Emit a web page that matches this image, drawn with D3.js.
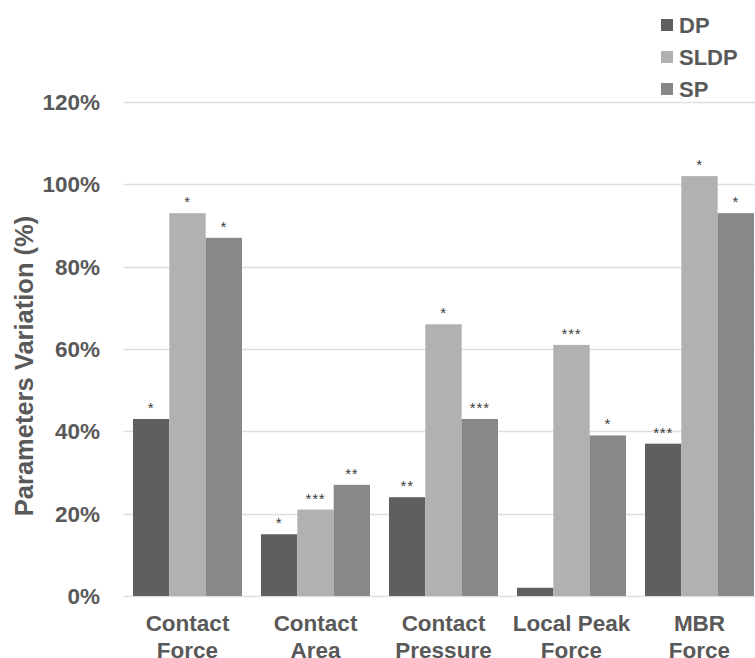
<!DOCTYPE html>
<html>
<head>
<meta charset="utf-8">
<script src="https://cdn.jsdelivr.net/npm/d3@7"></script>
<style>
  html, body { margin: 0; padding: 0; background: #fff; overflow: hidden; }
  svg { display: block; font-family: "Liberation Sans", Arial, sans-serif; }
</style>
</head>
<body>
<svg id="chart" width="755" height="658"></svg>
<script>
// ---- data ----
const categories = [["Contact", "Force"], ["Contact", "Area"], ["Contact", "Pressure"], ["Local Peak", "Force"], ["MBR", "Force"]];
const seriesNames = ["DP", "SLDP", "SP"];
const dpValues   = [0.43, 0.15, 0.24, 0.02, 0.37];
const sldpValues = [0.93, 0.21, 0.66, 0.61, 1.02];
const spValues   = [0.87, 0.27, 0.43, 0.39, 0.93];
const dpStars   = ["*", "*", "**", "", "***"];
const sldpStars = ["*", "***", "*", "***", "*"];
const spStars   = ["*", "**", "***", "*", "*"];
const yTicks = [0, 0.2, 0.4, 0.6, 0.8, 1.0, 1.2];
const yTitle = "Parameters Variation (%)";

// ---- styles ----
const colors = ["#5f5f5f", "#b1b1b1", "#888888"];
const textColor = "#595959";
const gridColor = "#dedede";

const W = 755, H = 658;
const plotLeft = 123.5, step = 128;
const svg = d3.select("#chart");

const catKeys = categories.map((c, i) => "c" + i);
const x0 = d3.scaleBand().domain(catKeys)
  .range([plotLeft, plotLeft + step * categories.length])
  .paddingInner(19 / 128).paddingOuter(19 / 256);
const x1 = d3.scaleBand().domain(seriesNames).range([0, x0.bandwidth()]).padding(0);
const y = d3.scaleLinear().domain([0, 1.2]).range([596, 102]);

// gridlines
svg.append("g").selectAll("line").data(yTicks).join("line")
  .attr("x1", plotLeft).attr("x2", W)
  .attr("y1", d => Math.round(y(d)) + 0.5).attr("y2", d => Math.round(y(d)) + 0.5)
  .attr("stroke", gridColor).attr("stroke-width", 1.5);

// y tick labels
svg.append("g").selectAll("text").data(yTicks).join("text")
  .attr("x", 100).attr("y", d => y(d) + 8)
  .attr("text-anchor", "end")
  .attr("font-size", 22.5).attr("font-weight", "bold").attr("fill", textColor)
  .text(d => d3.format(".0%")(d));

// y title
svg.append("text")
  .attr("transform", "translate(33,366) rotate(-90)")
  .attr("text-anchor", "middle")
  .attr("font-size", 25.5).attr("font-weight", "bold").attr("fill", textColor)
  .text(yTitle);

// bars
const seriesData = [dpValues, sldpValues, spValues];
const starData = [dpStars, sldpStars, spStars];
const rows = [];
catKeys.forEach((k, i) => {
  seriesNames.forEach((s, j) => {
    rows.push({ cat: k, series: s, value: seriesData[j][i], star: starData[j][i], color: colors[j] });
  });
});

svg.append("g").selectAll("rect").data(rows).join("rect")
  .attr("x", d => x0(d.cat) + x1(d.series))
  .attr("width", x1.bandwidth())
  .attr("y", d => y(d.value))
  .attr("height", d => y(0) - y(d.value))
  .attr("fill", d => d.color);

// significance stars
svg.append("g").selectAll("text").data(rows.filter(d => d.star)).join("text")
  .attr("x", d => x0(d.cat) + x1(d.series) + x1.bandwidth() / 2)
  .attr("y", d => y(d.value) - 6)
  .attr("text-anchor", "middle")
  .attr("font-size", 15).attr("letter-spacing", 0.8).attr("fill", "#3a3a3a")
  .text(d => d.star);

// x category labels
const xl = svg.append("g").selectAll("text").data(categories).join("text")
  .attr("text-anchor", "middle")
  .attr("font-size", 22.5).attr("font-weight", "bold").attr("fill", textColor)
  .attr("x", (d, i) => x0(catKeys[i]) + x0.bandwidth() / 2);
xl.each(function(d, i) {
  const t = d3.select(this);
  const cx = x0(catKeys[i]) + x0.bandwidth() / 2;
  d.forEach((line, li) => {
    t.append("tspan").attr("x", cx).attr("y", 631 + li * 26.5).text(line);
  });
});

// legend
const lg = svg.append("g").selectAll("g").data(seriesNames).join("g")
  .attr("transform", (d, i) => `translate(661,${25 + i * 32})`);
lg.append("rect").attr("x", 0).attr("y", -6).attr("width", 12).attr("height", 12)
  .attr("fill", (d, i) => colors[i]);
lg.append("text").attr("x", 18).attr("y", 7.8)
  .attr("font-size", 22).attr("font-weight", "bold").attr("fill", textColor)
  .text(d => d);
</script>
</body>
</html>
